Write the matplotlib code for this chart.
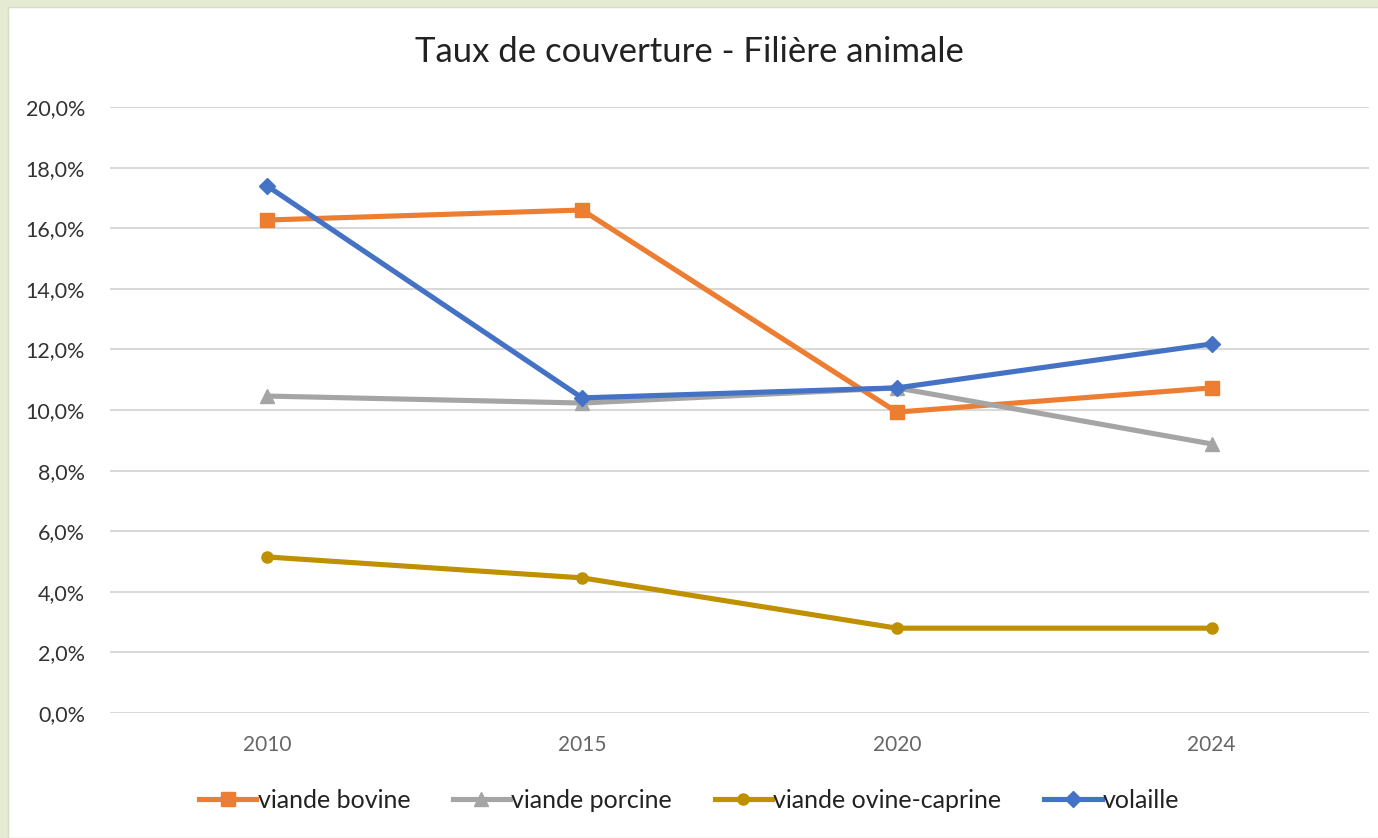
import matplotlib.pyplot as plt
from matplotlib.patches import Rectangle
from matplotlib.ticker import FuncFormatter

# data
years = ['2010', '2015', '2020', '2024']
bovine = [16.27, 16.6, 9.93, 10.73]
porcine = [10.46, 10.23, 10.73, 8.88]
ovine = [5.15, 4.46, 2.8, 2.8]
volaille = [17.39, 10.4, 10.73, 12.18]
labels = ['viande bovine', 'viande porcine', 'viande ovine-caprine', 'volaille']

plt.rcParams['font.family'] = ['Lato', 'DejaVu Sans']

fig = plt.figure(figsize=(13.78, 8.38), dpi=100)
fig.patch.set_facecolor('#e5ebd3')
# white chart area inside the pale frame
fig.patches.append(Rectangle((8 / 1378, 0), 1, 1 - 7 / 838, transform=fig.transFigure,
                             facecolor='white', edgecolor='#d6dcc6', lw=1, zorder=-10))

ax = fig.add_axes([110 / 1378, 1 - 713 / 838, 1259 / 1378, 606 / 838])
ax.set_facecolor('none')

x = range(len(years))
ax.plot(x, bovine, color='#ED7D31', lw=3.7, marker='s', ms=10, label=labels[0], zorder=3)
ax.plot(x, porcine, color='#A5A5A5', lw=3.7, marker='^', ms=10, label=labels[1], zorder=3)
ax.plot(x, ovine, color='#BF9000', lw=3.7, marker='o', ms=8, label=labels[2], zorder=3)
ax.plot(x, volaille, color='#4472C4', lw=3.7, marker='D', ms=8, label=labels[3], zorder=4)

ax.set_xlim(-0.5, 3.5)
ax.set_ylim(0, 20)
ax.set_yticks(range(0, 21, 2))
ax.yaxis.set_major_formatter(FuncFormatter(lambda v, p: f'{v:.1f}%'.replace('.', ',')))
ax.set_xticks(list(x))
ax.set_xticklabels(years)
ax.grid(axis='y', color='#d9d9d9', lw=1.5)
ax.set_axisbelow(True)
for s in ax.spines.values():
    s.set_visible(False)
ax.tick_params(length=0)
ax.tick_params(axis='y', labelsize=15.5, labelcolor='#333333', pad=18)
ax.tick_params(axis='x', labelsize=15, labelcolor='#666666', pad=16)

fig.text(0.5, 1 - 52 / 838, 'Taux de couverture - Filière animale', ha='center', va='center',
         fontsize=25, color='#222222')

fig.legend(loc='center', bbox_to_anchor=(0.5, 1 - 800 / 838), ncol=4, frameon=False,
           fontsize=18, handlelength=2.3, handletextpad=0.05, columnspacing=1.7,
           labelcolor='#222222')

fig.savefig('out.png', dpi=100)
